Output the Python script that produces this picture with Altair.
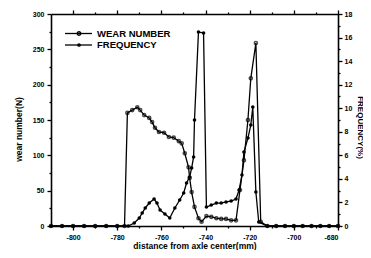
import altair as alt
import pandas as pd

# WEAR NUMBER (left axis, N)
wear_x = [-810, -805, -800, -795, -790, -785, -780, -776.7,
          -775.4, -773.2, -770.9, -769.6, -767.8, -765.5, -764.2, -762.9,
          -761.1, -758.8, -756.6, -754.4, -752.1, -750.8, -749.4, -747.7,
          -747.2, -746.3, -745.0, -743.2, -741.8, -739.6, -737.4, -735.1,
          -732.9, -730.7, -728.4, -726.2, -724.4, -722.6, -720.8, -719.5,
          -717.2, -715.0, -712, -708, -704, -700, -696, -692, -688, -684, -680]
wear_y = [0, 0, 0, 0, 0, 0, 0, 0,
          160, 164, 168, 164, 157, 153, 147, 139,
          133, 132, 126, 125, 120, 117, 103, 83,
          68, 48, 27, 11, 6, 14, 13, 11,
          10, 10, 8, 8, 51, 93, 150, 209,
          259, 6, 0, 0, 0, 0, 0, 0, 0, 0, 0]

# FREQUENCY (right axis, %)
freq_x = [-810, -805, -800, -795, -790, -785, -780, -775,
          -772.3, -770.0, -768.7, -767.3, -765.5, -763.3, -762.0, -760.6,
          -758.4, -756.2, -753.9, -751.7, -749.9, -748.6, -747.2, -746.3,
          -745.4, -745.0, -743.2, -740.9, -739.6, -737.4, -735.1, -732.9,
          -730.7, -728.4, -726.2, -724.8, -723.5, -722.6, -720.8, -719.5,
          -718.6, -717.2, -715.9, -712, -708, -704, -700, -696, -692, -688, -684, -680]
freq_y = [0, 0, 0, 0, 0, 0, 0, 0,
          0.25, 0.68, 1.10, 1.53, 1.95, 2.29, 1.95, 1.36,
          1.02, 0.68, 1.53, 2.21, 2.80, 3.65, 4.16, 4.92,
          5.86, 9.0, 16.47, 16.39, 1.61, 1.78, 1.95, 1.95,
          2.04, 2.12, 2.29, 3.06, 4.33, 6.28, 7.47, 8.57,
          10.10, 2.89, 0.34, 0, 0, 0, 0, 0, 0, 0, 0, 0]

x_ticks = list(range(-800, -679, 10))
left_ticks = list(range(0, 301, 25))
right_ticks = list(range(0, 19, 1))
legend_labels = ["WEAR NUMBER", "FREQUENCY"]

FONT = "Liberation Sans"
W, H = 287, 212

df_w = pd.DataFrame({"x": wear_x, "y": wear_y})
df_f = pd.DataFrame({"x": freq_x, "y": freq_y})

xscale = alt.Scale(domain=[-810, -680], nice=False, zero=False)
lscale = alt.Scale(domain=[0, 300], nice=False)
rscale = alt.Scale(domain=[0, 18], nice=False)

common = dict(domainColor="black", domainWidth=1.6, tickColor="black", tickWidth=1.3,
              labelColor="black", titleColor="black", grid=False,
              labelFontSize=7, labelFontWeight="bold", labelFont=FONT, labelPadding=3,
              titleFontSize=8.5, titleFontWeight="bold", titleFont=FONT)

x_axis = alt.Axis(
    values=x_ticks, labelExpr="datum.value % 20 === 0 ? '' + datum.value : ''",
    tickSize={"condition": {"test": "datum.value % 20 === 0", "value": 4}, "value": 2},
    title="distance from axle center(mm)", titleX=W / 2, titleY=19, titleBaseline="middle",
    **common,
)

left_axis = alt.Axis(
    values=left_ticks, labelExpr="datum.value % 50 === 0 ? '' + datum.value : ''",
    tickSize={"condition": {"test": "datum.value % 50 === 0", "value": 4}, "value": 2},
    title="wear number(N)", titleX=-33, titleY=115, titleBaseline="middle", titleAngle=270,
    **common,
)

right_common = dict(common)
right_common.update(labelPadding=2, titleFontSize=8)
right_axis = alt.Axis(
    orient="right", values=right_ticks,
    labelExpr="datum.value % 2 === 0 ? '' + datum.value : ''",
    tickSize={"condition": {"test": "datum.value % 2 === 0", "value": 4}, "value": 2},
    title="FREQUENCY(%)", titleX=21, titleY=113, titleBaseline="middle", titleAngle=90,
    **right_common,
)

top_axis = alt.Axis(
    orient="top", values=x_ticks, labels=False, title=None,
    tickSize={"condition": {"test": "datum.value % 20 === 0", "value": 4}, "value": 2},
    domainColor="black", domainWidth=1.6, tickColor="black", tickWidth=1.3, grid=False,
)

wear_line = alt.Chart(df_w).mark_line(color="black", strokeWidth=1.3).encode(
    x=alt.X("x:Q", scale=xscale, axis=x_axis),
    y=alt.Y("y:Q", scale=lscale, axis=left_axis),
)
wear_pts = alt.Chart(df_w).mark_point(color="black", filled=False, size=10, strokeWidth=1.5).encode(
    x=alt.X("x:Q", scale=xscale, axis=x_axis),
    y=alt.Y("y:Q", scale=lscale, axis=left_axis),
)
wear = alt.layer(wear_line, wear_pts)

freq_line = alt.Chart(df_f).mark_line(color="black", strokeWidth=1.3).encode(
    x=alt.X("x:Q", scale=xscale, axis=None),
    y=alt.Y("y:Q", scale=rscale, axis=right_axis),
)
freq_pts = alt.Chart(df_f).mark_point(color="black", filled=True, size=13, opacity=1).encode(
    x=alt.X("x:Q", scale=xscale, axis=None),
    y=alt.Y("y:Q", scale=rscale, axis=right_axis),
)
freq = alt.layer(freq_line, freq_pts)

top = alt.Chart(df_w).mark_point(opacity=0).encode(
    x=alt.X("x:Q", scale=xscale, axis=top_axis),
)

df_leg = pd.DataFrame({"label": legend_labels})
leg_y = [19.5, 31]
leg_layers = []
for i, lab in enumerate(legend_labels):
    d = df_leg[df_leg.label == lab]
    rule = alt.Chart(d).mark_rule(color="black", strokeWidth=1.3).encode(
        x=alt.value(14), x2=alt.value(41), y=alt.value(leg_y[i]))
    pt = alt.Chart(d).mark_point(color="black", filled=(i == 1), size=14 if i == 1 else 12,
                                 strokeWidth=1.4, opacity=1).encode(
        x=alt.value(28), y=alt.value(leg_y[i]))
    txt = alt.Chart(d).mark_text(align="left", baseline="middle", fontSize=9.5,
                                 fontWeight="bold", font=FONT, color="black").encode(
        x=alt.value(46), y=alt.value(leg_y[i]), text="label:N")
    leg_layers += [rule, pt, txt]

chart = alt.layer(wear, freq, top, *leg_layers).resolve_scale(
    y="independent"
).resolve_axis(x="independent", y="independent").properties(
    width=W, height=H,
    autosize=alt.AutoSizeParams(type="none"),
    padding={"left": 43, "top": 6, "right": 25, "bottom": 24},
).configure_view(stroke="black", strokeWidth=1.6).configure(background="white")

chart.save("out.html", embed_options={"renderer": "svg", "actions": False})
